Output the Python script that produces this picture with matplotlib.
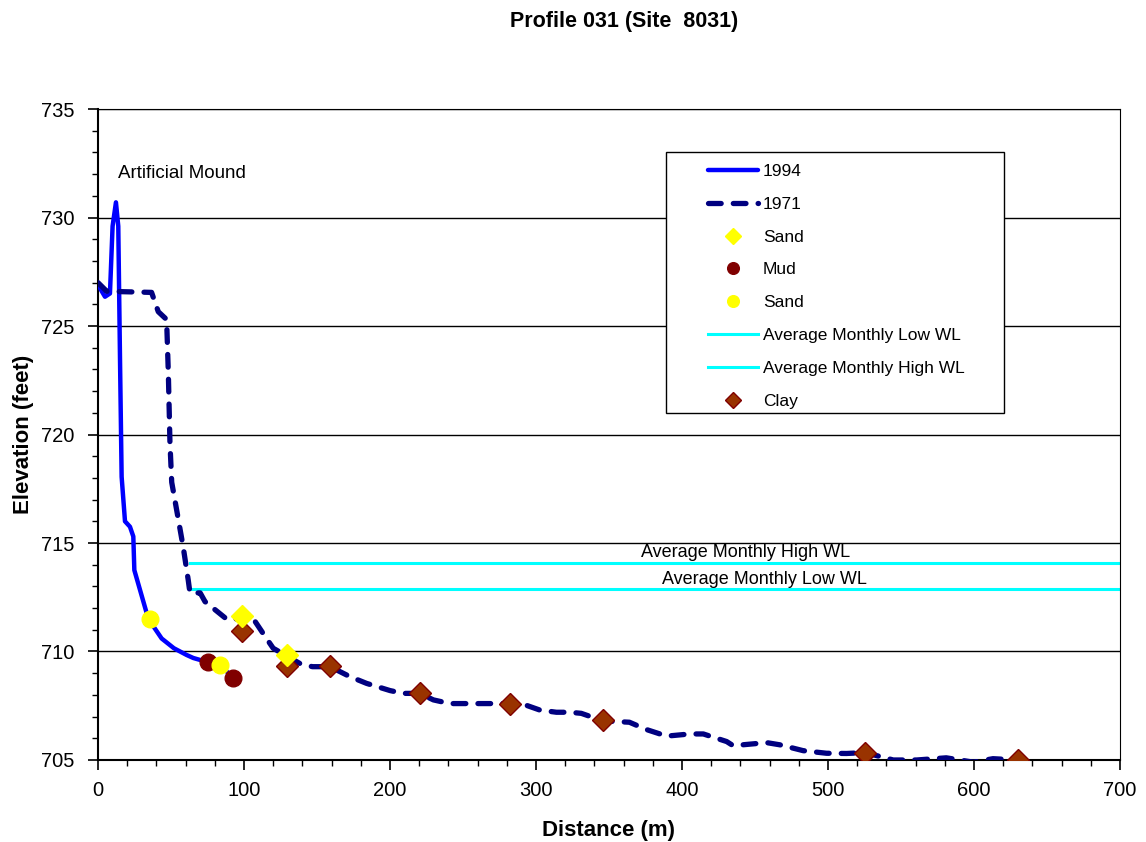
import numpy as np
import matplotlib
matplotlib.use("Agg")
import matplotlib.pyplot as plt
from matplotlib.ticker import MultipleLocator
from matplotlib.patches import Rectangle

plt.rcParams['font.family'] = ['Liberation Sans', 'DejaVu Sans']

# 1994 profile (distance m, elevation ft)
x_1994 = [0, 4.8, 8.2, 10, 12.3, 13.9, 15.1, 16.2, 18.5, 21.9, 24.2, 24.9, 34.5,
          43.6, 52, 60.7, 65.3, 75.6, 83.6, 89.3]
y_1994 = [726.9, 726.35, 726.5, 729.6, 730.7, 729.6, 723.4, 718.05, 716.0, 715.75,
          715.3, 713.75, 711.5, 710.6, 710.15, 709.84, 709.7, 709.5, 709.4, 709.0]

# 1971 profile
x_1971 = [0, 6, 36.7, 41.3, 47, 48.2, 49.3, 50.5, 55, 58.4, 61.8, 63, 70, 73.3, 88,
          92.7, 104, 114.4, 120, 139.5, 147, 159, 172.6, 184, 200, 209, 220.5, 229.7,
          241, 259.4, 282, 291.3, 302.7, 314, 323, 331, 346, 364, 375.8, 389.5,
          405.5, 414.6, 430.6, 435, 458, 467, 483, 499, 512.7, 525.3, 538, 544.7,
          560.7, 581, 599.5, 613, 630]
y_1971 = [727.0, 726.6, 726.55, 725.66, 725.3, 722.8, 719.6, 717.8, 716.1, 714.8,
          713.3, 712.7, 712.7, 712.3, 711.5, 711.45, 711.75, 710.7, 710.15, 709.4,
          709.3, 709.3, 708.84, 708.53, 708.2, 708.07, 708.07, 707.77, 707.6, 707.6,
          707.6, 707.57, 707.3, 707.2, 707.2, 707.15, 706.8, 706.74, 706.4, 706.1,
          706.2, 706.2, 705.85, 705.66, 705.8, 705.7, 705.43, 705.31, 705.3, 705.34,
          705.12, 705.0, 705.0, 705.1, 704.9, 705.06, 705.0]

# sample points
sand_d_x = [98.4, 129.2]
sand_d_y = [711.64, 709.84]
mud_x = [75.6, 92.2]
mud_y = [709.5, 708.8]
sand_c_x = [35.6, 83.6]
sand_c_y = [711.5, 709.4]
clay_x = [98.4, 129.2, 159, 220.5, 282.2, 346.1, 525.3, 630.4]
clay_y = [710.95, 709.33, 709.33, 708.07, 707.6, 706.82, 705.34, 705.0]

# water levels
wl_x = [63, 700]
wl_low = 712.9
wl_high = 714.1

fig = plt.figure(figsize=(11.46, 8.42), dpi=100)
ax = fig.add_axes([0.0855, 0.0974, 0.8918, 0.7731])

ax.plot(x_1994, y_1994, color='#0000FF', lw=3.2, solid_joinstyle='round',
        solid_capstyle='round', label='1994', zorder=3)
ax.plot(x_1971, y_1971, color='#000080', lw=3.8, dashes=(2.4, 2.3),
        dash_capstyle='round', label='1971', zorder=3)
ax.plot(sand_d_x, sand_d_y, 'D', color='#FFFF00', ms=11, mec='#FFFF00',
        ls='none', label='Sand', zorder=5)
ax.plot(mud_x, mud_y, 'o', color='#800000', ms=12, mec='#800000',
        ls='none', label='Mud', zorder=4)
ax.plot(sand_c_x, sand_c_y, 'o', color='#FFFF00', ms=12, mec='#FFFF00',
        ls='none', label='Sand', zorder=4)
ax.plot(wl_x, [wl_low, wl_low], color='#00FFFF', lw=2.2,
        label='Average Monthly Low WL', zorder=2)
ax.plot(wl_x, [wl_high, wl_high], color='#00FFFF', lw=2.2,
        label='Average Monthly High WL', zorder=2)
ax.plot(clay_x, clay_y, 'D', color='#993300', ms=11, mec='#800000', mew=1,
        ls='none', label='Clay', zorder=4)

ax.text(13.7, 732.05, 'Artificial Mound', fontsize=13.5, va='center')
ax.text(443.8, 714.58, 'Average Monthly High WL', fontsize=13, ha='center', va='center')
ax.text(456.5, 713.34, 'Average Monthly Low WL', fontsize=13, ha='center', va='center')

ax.set_xlim(0, 700)
ax.set_ylim(705, 735)
ax.xaxis.set_major_locator(MultipleLocator(100))
ax.xaxis.set_minor_locator(MultipleLocator(20))
ax.yaxis.set_major_locator(MultipleLocator(5))
ax.yaxis.set_minor_locator(MultipleLocator(1))
ax.tick_params(which='major', direction='out', length=7, width=1.2, labelsize=14.5)
ax.tick_params(axis='y', which='major', pad=10)
ax.tick_params(axis='x', which='major', pad=8)
ax.tick_params(which='minor', direction='out', length=4, width=1)
ax.grid(axis='y', which='major', color='black', lw=1)
ax.set_axisbelow(True)
for s in ['left', 'bottom']:
    ax.spines[s].set_linewidth(1.5)
for s in ['top', 'right']:
    ax.spines[s].set_linewidth(0.8)

ax.set_xlabel('Distance (m)', fontsize=16, fontweight='bold')
ax.set_ylabel('Elevation (feet)', fontsize=16, fontweight='bold')
ax.xaxis.set_label_coords(0.5, -0.092)
ax.yaxis.set_label_coords(-0.063, 0.5)
fig.text(0.545, 0.974, 'Profile 031 (Site  8031)', fontsize=15.5, fontweight='bold',
         ha='center', va='center')

# legend box drawn separately so the entries can sit inside with a wide margin
ax.add_patch(Rectangle((0.556, 0.533), 0.331, 0.401, transform=ax.transAxes,
                       facecolor='white', edgecolor='black', lw=1, zorder=6))
leg = ax.legend(loc='upper left', bbox_to_anchor=(0.597, 0.916), fontsize=12.5,
                frameon=False, handlelength=2.9, labelspacing=1.02, markerscale=0.7,
                borderpad=0, handletextpad=0.25, borderaxespad=0)
leg.set_zorder(7)

fig.savefig('out.png', dpi=100)
